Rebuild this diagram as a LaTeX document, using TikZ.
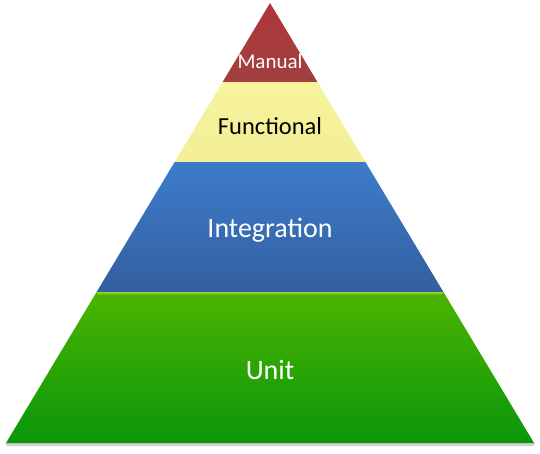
\documentclass[tikz,border=0pt]{standalone}
\usepackage{fontspec}
\setmainfont{Carlito}
\definecolor{manualtop}{HTML}{B0363A}
\definecolor{manualbot}{HTML}{A04040}
\definecolor{functop}{HTML}{F7F39C}
\definecolor{funcbot}{HTML}{F2EF98}
\definecolor{integtop}{HTML}{3D7CCB}
\definecolor{integbot}{HTML}{335F9F}
\definecolor{unittop}{HTML}{4CB400}
\definecolor{unitmid}{HTML}{1EAA05}
\definecolor{unitbot}{HTML}{0A960A}
\tikzset{
  layer/.style={draw=none},
  lbl/.style={inner sep=0pt, anchor=center}
}
\begin{document}
\begin{tikzpicture}[x=1pt,y=-1pt]
\useasboundingbox (0,0) rectangle (540,453);
% faint base shadow
\fill[black!18] (5,443) -- (535,443) -- (533,446) -- (7,446) -- cycle;
% layers
\shade[layer, top color=manualtop, bottom color=manualbot]
  (270,3) -- (317.4,82) -- (222.6,82) -- cycle;
\shade[layer, top color=functop, bottom color=funcbot]
  (222.6,82) -- (317.4,82) -- (365.4,162) -- (174.6,162) -- cycle;
\shade[layer, top color=integtop, bottom color=integbot]
  (174.6,162) -- (365.4,162) -- (443.4,292) -- (96.6,292) -- cycle;
\shade[layer, top color=unittop, middle color=unitmid, bottom color=unitbot]
  (96.6,292) -- (443.4,292) -- (534,443) -- (6,443) -- cycle;
\shade[top color=unittop!70!yellow!80!white, bottom color=unittop]
  (96.6,292) -- (443.4,292) -- (441.6,295) -- (98.4,295) -- cycle;
% labels
\node[lbl, text=white, font=\fontsize{21}{24}\selectfont] (manual) at (270,61) {Manual};
\node[lbl, text=black, font=\fontsize{24.5}{28}\selectfont] (functional) at (270,126) {Functional};
\node[lbl, text=white, font=\fontsize{28}{32}\selectfont] (integration) at (270,230) {Integration};
\node[lbl, text=white, font=\fontsize{28}{32}\selectfont] (unit) at (270,370) {Unit};
\end{tikzpicture}
\end{document}
